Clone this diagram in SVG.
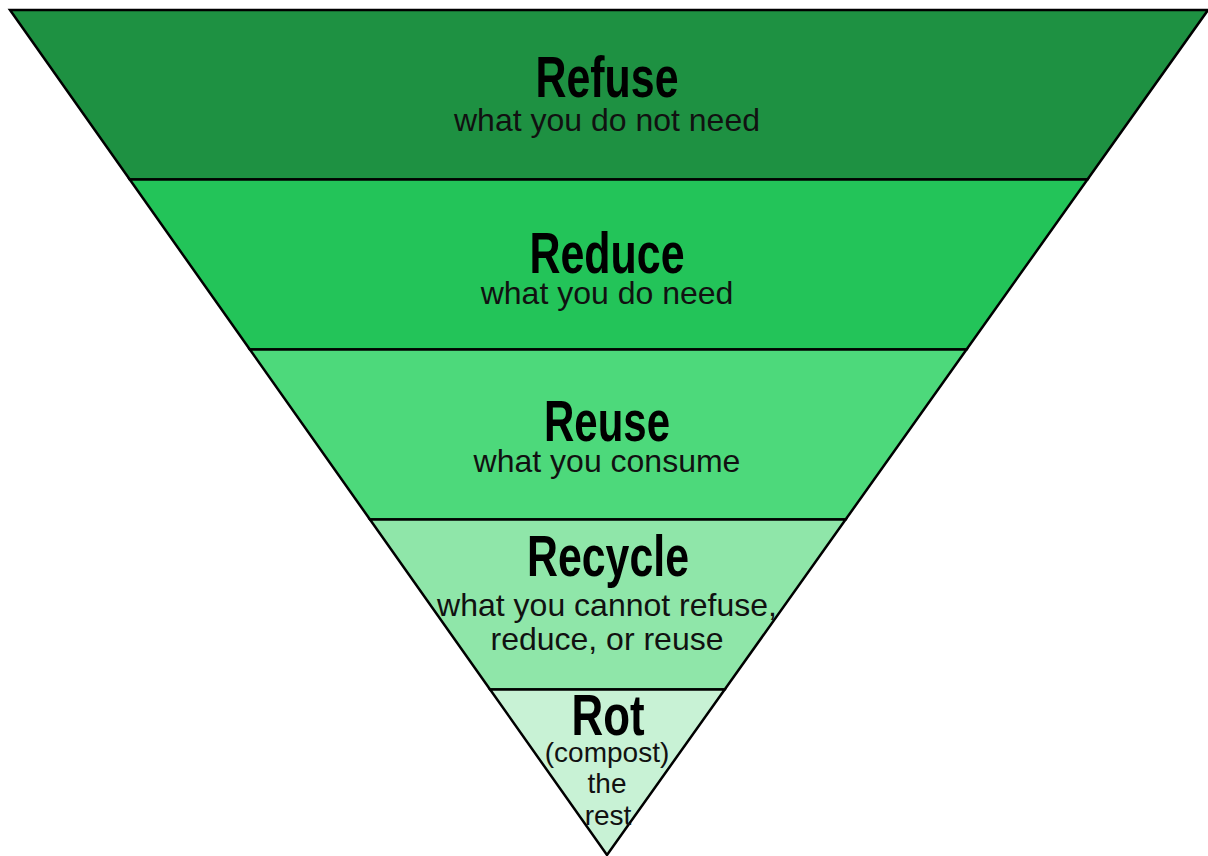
<svg xmlns="http://www.w3.org/2000/svg" width="1208" height="856" viewBox="0 0 1208 856">
<style>
.band{stroke:#000;stroke-width:2.5;stroke-linejoin:miter}
.t{font-family:"Liberation Sans Narrow","Liberation Sans","DejaVu Sans Condensed",sans-serif;font-weight:bold;font-size:58px;fill:#000;text-anchor:middle}
.s{font-family:"Liberation Sans",Arial,sans-serif;font-size:32px;fill:#111;text-anchor:middle}
.s2{font-family:"Liberation Sans",Arial,sans-serif;font-size:28px;fill:#111;text-anchor:middle}
</style>
<rect width="1208" height="856" fill="#fff"/>
<g id="refuse">
<polygon class="band" fill="#1e9142" points="10,10 1208,10 1087.45,179.5 129.75,179.5"/>
<text class="t" x="607" y="97" textLength="143" lengthAdjust="spacingAndGlyphs">Refuse</text>
<text class="s" x="607" y="131">what you do not need</text>
</g>
<g id="reduce">
<polygon class="band" fill="#23c459" points="129.75,179.5 1087.45,179.5 966.53,349.5 249.86,349.5"/>
<text class="t" x="607" y="273" textLength="155" lengthAdjust="spacingAndGlyphs">Reduce</text>
<text class="s" x="607" y="304">what you do need</text>
</g>
<g id="reuse">
<polygon class="band" fill="#4dd97b" points="249.86,349.5 966.53,349.5 845.62,519.5 369.97,519.5"/>
<text class="t" x="607" y="441" textLength="126" lengthAdjust="spacingAndGlyphs">Reuse</text>
<text class="s" x="607" y="472">what you consume</text>
</g>
<g id="recycle">
<polygon class="band" fill="#8fe6a9" points="369.97,519.5 845.62,519.5 724.72,689.5 490.07,689.5"/>
<text class="t" x="608" y="576" textLength="162" lengthAdjust="spacingAndGlyphs">Recycle</text>
<text class="s" x="607" y="616">what you cannot refuse,</text>
<text class="s" x="607" y="650">reduce, or reuse</text>
</g>
<g id="rot">
<polygon class="band" fill="#c8f2d5" points="490.07,689.5 724.72,689.5 607,855"/>
<text class="t" x="608" y="735" textLength="73" lengthAdjust="spacingAndGlyphs">Rot</text>
<text class="s2" x="607" y="762">(compost)</text>
<text class="s2" x="607" y="793">the</text>
<text class="s2" x="608" y="825">rest</text>
</g>
<g id="connectors"></g>
</svg>
